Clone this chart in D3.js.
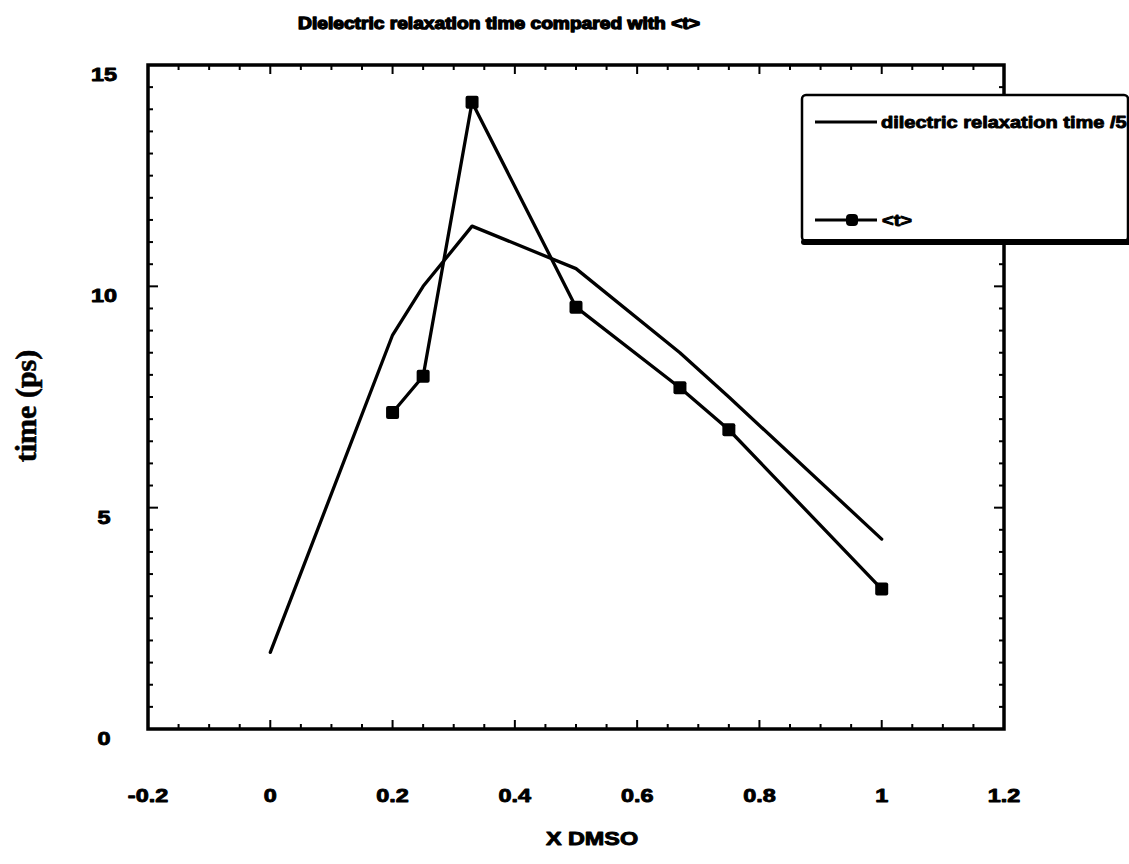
<!DOCTYPE html>
<html>
<head>
<meta charset="utf-8">
<script src="https://cdnjs.cloudflare.com/ajax/libs/d3/7.8.5/d3.min.js"></script>
<style>
  html, body { margin: 0; padding: 0; background: #fff; }
  svg { display: block; }
</style>
</head>
<body>
<svg id="chart" width="1129" height="864"></svg>
<script>
// Mole fraction of DMSO for each measurement
const xDmso = [0, 0.2, 0.25, 0.33, 0.5, 0.67, 0.75, 1];
// Dielectric relaxation time divided by 5 (ps)
const dielectricOver5 = [1.73, 8.9, 10.0, 11.36, 10.4, 8.5, 7.5, 4.29];
// Mean solvation time <t> (ps)
const tauX = [0.2, 0.25, 0.33, 0.5, 0.67, 0.75, 1];
const meanTau = [7.15, 7.97, 14.16, 9.53, 7.71, 6.76, 3.16];

const xTicks = [-0.2, 0, 0.2, 0.4, 0.6, 0.8, 1, 1.2];
const yTicks = [0, 5, 10, 15];

const titleText = "Dielectric relaxation time compared with <t>";
const xTitle = "X DMSO";
const yTitle = "time (ps)";
const legendLabels = ["dilectric relaxation time /5", "<t>"];

const svg = d3.select("#chart");
const SANS = "'Liberation Sans', Arial, Helvetica, sans-serif";
const SERIF = "'Liberation Serif', 'Times New Roman', serif";

const x = d3.scaleLinear().domain([-0.2, 1.2]).range([148, 1004]);
const y = d3.scaleLinear().domain([0, 15]).range([729, 65]);

// horizontally widened heavy text, as in the printed figure
function wideText(parent, px, py, str, size, sx, anchor, weight) {
  return parent.append("text")
    .attr("transform", `translate(${px},${py}) scale(${sx},1)`)
    .attr("text-anchor", anchor || "middle")
    .attr("font-family", SANS)
    .attr("font-weight", "bold")
    .attr("font-size", size)
    .attr("stroke", "#000")
    .attr("stroke-width", weight == null ? 0.9 : weight)
    .attr("stroke-linejoin", "round")
    .attr("fill", "#000")
    .text(str);
}

// Title
wideText(svg, 499, 29, titleText, 16, 1.2, "middle", 1.3);

// Axes with inward ticks on all four sides
const minorX = d3.range(-0.2, 1.2001, 0.05);
const minorY = d3.range(0, 15.001, 0.5);
const axisG = svg.append("g").attr("stroke", "#000").attr("fill", "none");

const isMajor = (v, step) => Math.abs(v / step - Math.round(v / step)) < 1e-6;

axisG.append("g").attr("stroke-width", 2).selectAll("line")
  .data(minorX).join("line")
  .attr("x1", d => x(d)).attr("x2", d => x(d))
  .attr("y1", y(0)).attr("y2", d => y(0) - (isMajor(d, 0.2) ? 9 : 5));
axisG.append("g").attr("stroke-width", 2).selectAll("line")
  .data(minorX).join("line")
  .attr("x1", d => x(d)).attr("x2", d => x(d))
  .attr("y1", y(15)).attr("y2", d => y(15) + (isMajor(d, 0.2) ? 9 : 5));
axisG.append("g").attr("stroke-width", 2).selectAll("line")
  .data(minorY).join("line")
  .attr("y1", d => y(d)).attr("y2", d => y(d))
  .attr("x1", x(-0.2)).attr("x2", d => x(-0.2) + (isMajor(d, 5) ? 10 : 5));
axisG.append("g").attr("stroke-width", 2).selectAll("line")
  .data(minorY).join("line")
  .attr("y1", d => y(d)).attr("y2", d => y(d))
  .attr("x1", x(1.2)).attr("x2", d => x(1.2) - (isMajor(d, 5) ? 10 : 5));

axisG.append("rect")
  .attr("x", x(-0.2)).attr("y", y(15))
  .attr("width", x(1.2) - x(-0.2)).attr("height", y(0) - y(15))
  .attr("stroke-width", 3.5);

// Tick labels (plain hyphen for negatives)
const tickFmt = d => (Math.abs(d) < 1e-9 ? "0" : String(+d.toFixed(1)));
xTicks.forEach(t => wideText(svg, x(t), 802, tickFmt(t), 18, 1.3));
yTicks.forEach(t => wideText(svg, 104, y(t) + 16, tickFmt(t), 18, 1.3));

// Axis titles
wideText(svg, 592, 845, xTitle, 18, 1.3);
svg.append("text")
  .attr("transform", `translate(36,406) rotate(-90)`)
  .attr("text-anchor", "middle")
  .attr("font-family", SERIF)
  .attr("font-weight", "bold")
  .attr("font-size", 30)
  .attr("stroke", "#000")
  .attr("stroke-width", 0.6)
  .text(yTitle);

// Data series
const line = d3.line().x(d => x(d[0])).y(d => y(d[1]));
const dielPts = xDmso.map((v, i) => [v, dielectricOver5[i]]);
const tauPts = tauX.map((v, i) => [v, meanTau[i]]);

svg.append("path").datum(dielPts)
  .attr("d", line).attr("fill", "none").attr("stroke", "#000")
  .attr("stroke-width", 3.3).attr("stroke-linejoin", "round").attr("stroke-linecap", "round");
svg.append("path").datum(tauPts)
  .attr("d", line).attr("fill", "none").attr("stroke", "#000")
  .attr("stroke-width", 3.3).attr("stroke-linejoin", "round");
const M = 13;
svg.append("g").selectAll("rect").data(tauPts).join("rect")
  .attr("x", d => x(d[0]) - M / 2).attr("y", d => y(d[1]) - M / 2)
  .attr("width", M).attr("height", M).attr("rx", 2).attr("fill", "#000");

// Legend
const lg = svg.append("g");
lg.append("rect").attr("x", 802).attr("y", 95).attr("width", 326).attr("height", 146)
  .attr("rx", 4).attr("fill", "#fff").attr("stroke", "#000").attr("stroke-width", 2.5);
lg.append("line").attr("x1", 804).attr("x2", 1129).attr("y1", 242).attr("y2", 242)
  .attr("stroke", "#000").attr("stroke-width", 6).attr("stroke-linecap", "round");
lg.append("line").attr("x1", 815).attr("x2", 877).attr("y1", 122).attr("y2", 122)
  .attr("stroke", "#000").attr("stroke-width", 3);
wideText(lg, 881, 128, legendLabels[0], 16, 1.25, "start");
lg.append("line").attr("x1", 815).attr("x2", 877).attr("y1", 220).attr("y2", 220)
  .attr("stroke", "#000").attr("stroke-width", 3);
lg.append("rect").attr("x", 846).attr("y", 214).attr("width", 12).attr("height", 12)
  .attr("rx", 4).attr("fill", "#000");
wideText(lg, 882, 226, legendLabels[1], 16, 1.25, "start");
</script>
</body>
</html>
